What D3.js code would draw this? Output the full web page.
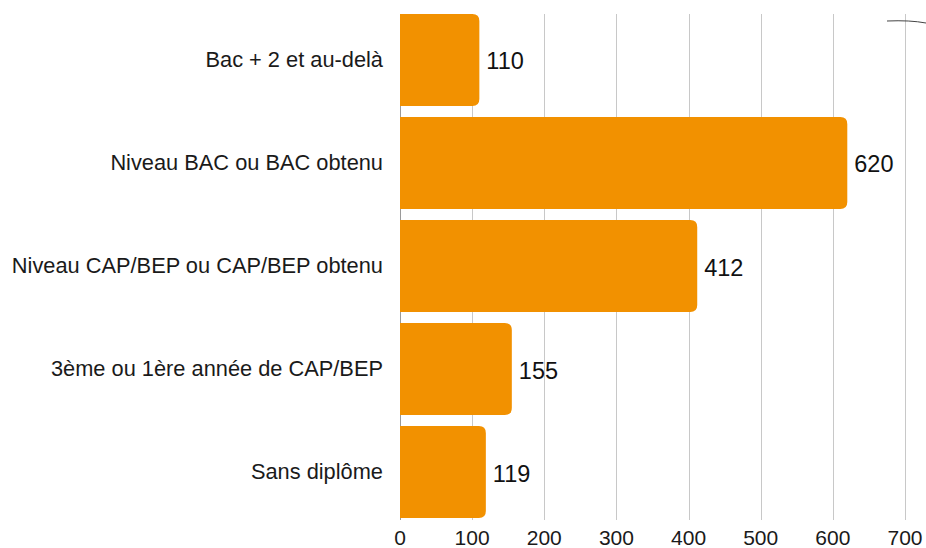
<!DOCTYPE html>
<html><head><meta charset="utf-8">
<script src="https://cdn.jsdelivr.net/npm/d3@7/dist/d3.min.js"></script>
<style>html,body{margin:0;padding:0;background:#fff;}svg{display:block;}</style>
</head><body>
<script>
const categories = ["Bac + 2 et au-delà","Niveau BAC ou BAC obtenu","Niveau CAP/BEP ou CAP/BEP obtenu","3ème ou 1ère année de CAP/BEP","Sans diplôme"];
const values = [110, 620, 412, 155, 119];
const ticks = [0,100,200,300,400,500,600,700];

const W = 926, H = 548;
const svg = d3.select("body").append("svg").attr("width", W).attr("height", H);
const font = "'Liberation Sans', Arial, sans-serif";

const x = d3.scaleLinear().domain([0, 700]).range([400, 905]);
const y = d3.scaleBand().domain(categories).range([14, 518]).paddingInner(0.107).paddingOuter(0);

// gridlines
svg.append("g").selectAll("line").data(ticks).join("line")
  .attr("x1", d => Math.round(x(d)) + 0.5).attr("x2", d => Math.round(x(d)) + 0.5)
  .attr("y1", 14).attr("y2", 520)
  .attr("stroke", d => d === 0 ? "#9a9a9a" : "#c8c8c8").attr("stroke-width", 1);

// bars with rounded right corners
const r = 7;
function barPath(x0, x1, y0, h) {
  const rr = Math.min(r, (x1 - x0), h / 2);
  return `M${x0},${y0}H${x1 - rr}Q${x1},${y0} ${x1},${y0 + rr}V${y0 + h - rr}Q${x1},${y0 + h} ${x1 - rr},${y0 + h}H${x0}Z`;
}
svg.append("g").selectAll("path").data(categories).join("path")
  .attr("d", (c, i) => barPath(x(0), x(values[i]), y(c), y.bandwidth()))
  .attr("fill", "#f29100");

// value labels
svg.append("g").selectAll("text").data(categories).join("text")
  .attr("x", (c, i) => x(values[i]) + 7)
  .attr("y", c => y(c) + y.bandwidth() / 2 + 9.5)
  .attr("font-family", font).attr("font-size", 23.5).attr("fill", "#111")
  .text((c, i) => values[i]);

// category labels
svg.append("g").selectAll("text").data(categories).join("text")
  .attr("x", 383)
  .attr("y", c => y(c) + y.bandwidth() / 2 - 1)
  .attr("dy", "0.36em")
  .attr("text-anchor", "end")
  .attr("font-family", font).attr("font-size", 21.8).attr("fill", "#1a1a1a")
  .text(c => c);

// x tick labels
svg.append("g").selectAll("text").data(ticks).join("text")
  .attr("x", d => x(d))
  .attr("y", 545)
  .attr("text-anchor", "middle")
  .attr("font-family", font).attr("font-size", 21).attr("fill", "#1a1a1a")
  .text(d => d);

// small stroke at top right
svg.append("path").attr("d", "M887,21 Q910,20 926,23")
  .attr("fill", "none").attr("stroke", "#444").attr("stroke-width", 1);
</script>
</body></html>
